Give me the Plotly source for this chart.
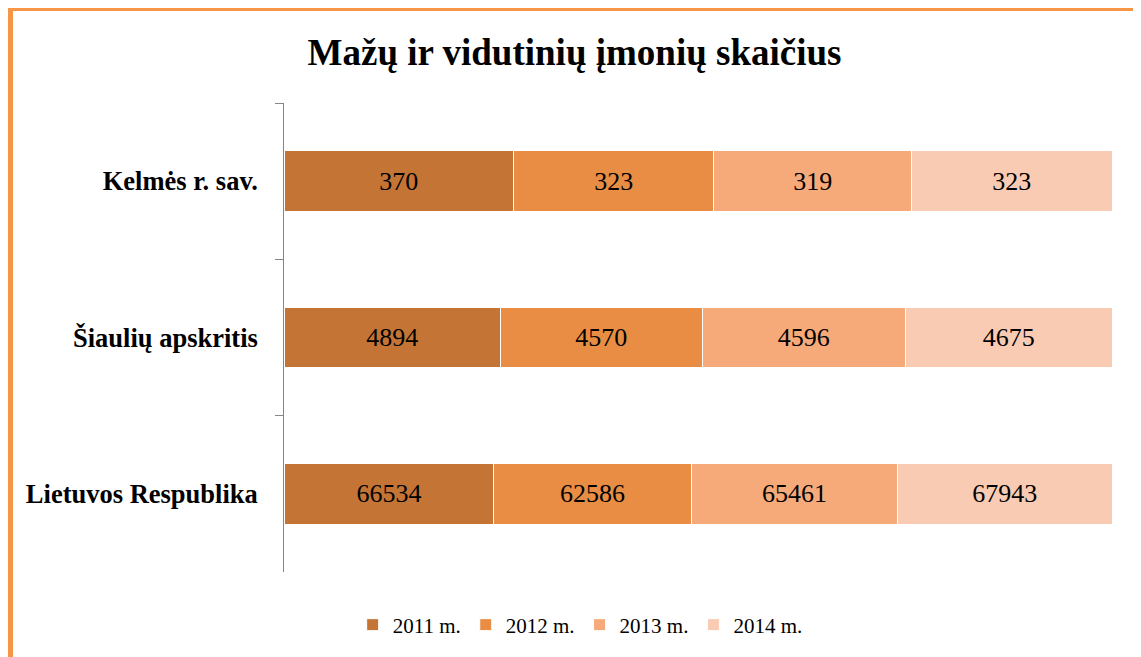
import plotly.graph_objects as go

# Mažų ir vidutinių įmonių skaičius pagal metus
regionai = ['Kelmės r. sav.', 'Šiaulių apskritis', 'Lietuvos Respublika']
metai = ['2011 m.', '2012 m.', '2013 m.', '2014 m.']
r2011 = [370, 4894, 66534]
r2012 = [323, 4570, 62586]
r2013 = [319, 4596, 65461]
r2014 = [323, 4675, 67943]
spalvos = ['#C47536', '#E88D43', '#F7AA79', '#F9CBB3']

# puslapis turi 8 px paraštę, todėl figūra mažesnė už langą
W, H = 1133, 649

fig = go.Figure()
for pav, reiksmes, spalva in zip(metai, [r2011, r2012, r2013, r2014], spalvos):
    fig.add_trace(go.Bar(
        name=pav, y=regionai, x=reiksmes, orientation='h',
        marker=dict(color=spalva, line=dict(color='white', width=1)),
        text=reiksmes, texttemplate='%{text}', textposition='inside',
        insidetextanchor='middle',
        textfont=dict(family='Liberation Serif', size=26, color='black'),
    ))

fig.update_layout(
    width=W, height=H,
    barmode='stack', barnorm='percent', bargap=0.61,
    paper_bgcolor='white', plot_bgcolor='white',
    margin=dict(l=276, r=29, t=95, b=85),
    font=dict(family='Liberation Serif', color='black'),
    title=dict(text='<b>Mažų ir vidutinių įmonių skaičius</b>',
               font=dict(size=37, family='Liberation Serif'),
               x=0.5, xanchor='center', y=1 - 44 / H, yanchor='middle'),
    showlegend=True,
    legend=dict(orientation='h', xref='container', yref='container',
                x=0.505, xanchor='center', y=1 - 617 / H, yanchor='middle',
                font=dict(size=21), traceorder='normal'),
)
fig.update_xaxes(visible=False, range=[0, 100])
fig.update_yaxes(autorange='reversed', showline=True, linecolor='#868686', linewidth=1,
                 ticks='outside', tickson='boundaries', ticklen=8, tickcolor='#868686',
                 tickfont=dict(size=26.5, family='Liberation Serif'),
                 tickprefix='<b>', ticksuffix='</b>\u00a0\u00a0\u00a0', showgrid=False)

# oranžinis rėmelis aplink visą diagramą
pl, pr, pt, pb = 276, W - 29, 95, H - 85
fig.add_shape(type='rect', xref='paper', yref='paper',
              x0=(2.5 - pl) / (pr - pl), x1=(W + 0.5 - pl) / (pr - pl),
              y0=(pb - (H + 5)) / (pb - pt), y1=(pb - 0.5) / (pb - pt),
              line=dict(color='#F79646', width=5))

fig.write_html('out.html')
